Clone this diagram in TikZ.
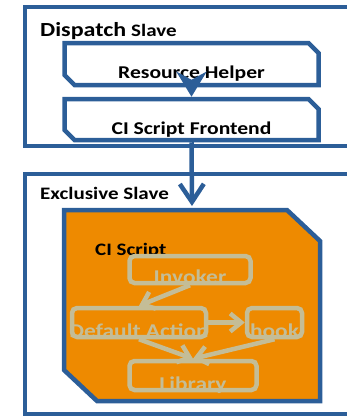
\documentclass[tikz,border=0pt]{standalone}
\usepackage{fontspec}
\setmainfont{Carlito}[FakeStretch=1.2]
\usetikzlibrary{arrows.meta,shapes.misc}

\definecolor{slaveblue}{HTML}{2C5E98}
\definecolor{scriptorange}{HTML}{EE8A00}
\definecolor{parttan}{HTML}{C4BD97}

\tikzset{
  blueline/.style={draw=slaveblue, line width=4.5pt},
  slavebox/.style={blueline, rectangle, anchor=north west, inner sep=0pt, outer sep=0pt},
  stagebox/.style={blueline, chamfered rectangle,
    chamfered rectangle corners={north east,south west},
    chamfered rectangle xsep=5pt, chamfered rectangle ysep=5pt,
    minimum width=254pt, inner sep=0pt, anchor=base,
    font=\bfseries\fontsize{18}{18}\selectfont},
  partbox/.style={draw=parttan, line width=4.5pt, rounded corners=5pt,
    inner sep=0pt, anchor=base, text=parttan,
    font=\bfseries\fontsize{19.5}{19.5}\selectfont},
  partarrow/.style={draw=parttan, line width=4.5pt, -{Straight Barb[length=11pt,width=18pt]}},
  title/.style={anchor=base west, inner sep=0pt, font=\bfseries\fontsize{17.5}{17.5}\selectfont},
}

\begin{document}
\begin{tikzpicture}[x=1pt,y=-1pt]
  \useasboundingbox (0,0) rectangle (347,416);
  \clip (0,0) rectangle (347,416);

  % slaves
  \node[slavebox, minimum width=380pt, minimum height=139pt] (dispatch) at (25,7) {};
  \node[title] (dispatchlabel) at (40,36) {{\fontsize{20}{20}\selectfont Dispatch}\hspace{5pt}Slave};
  \node[stagebox, text height=30pt, text depth=2pt] (rh) at (191.5,78) {Resource Helper};
  \node[stagebox, text height=30pt, text depth=1pt] (frontend) at (191.5,134) {CI Script Frontend};

  \node[slavebox, minimum width=380pt, minimum height=240pt] (exclusive) at (25,174) {};
  \node[title] (exclusivelabel) at (40,199) {Exclusive Slave};

  % ci script
  \filldraw[blueline, fill=scriptorange] (64,210) -- (287,210) -- (320,241)
    -- (320,401) -- (97,401) -- (64,370) -- cycle;
  \coordinate (ciscript) at (192,206);
  \node[title] (cilabel) at (95,255) {CI Script};

  \node[partbox, minimum width=121pt, text height=27pt, text depth=-5pt] (invoker) at (190,283) {Invoker};
  \node[partbox, minimum width=134pt, text height=29pt, text depth=0pt] (default) at (139,337) {\makebox[0pt]{Default Action}};
  \node[partbox, minimum width=55pt, text height=29pt, text depth=0pt] (hook) at (274.5,337) {hook};
  \node[partbox, minimum width=127pt, text height=29pt, text depth=-2pt] (library) at (193,390) {Library};

  \draw[partarrow] (invoker.south) -- (default.north);
  \draw[partarrow] (default.east) -- (hook.west);
  \draw[partarrow] (default.south) -- (library.north);
  \draw[partarrow] (hook.south) -- (library.north);

  % calls
  \draw[blueline, -{Stealth[length=25pt,width=30pt,inset=8pt]}] (rh.south) -- (frontend.north);
  \draw[blueline, -{Straight Barb[length=18pt,width=24pt]}] (frontend.south) -- (ciscript);
\end{tikzpicture}
\end{document}
